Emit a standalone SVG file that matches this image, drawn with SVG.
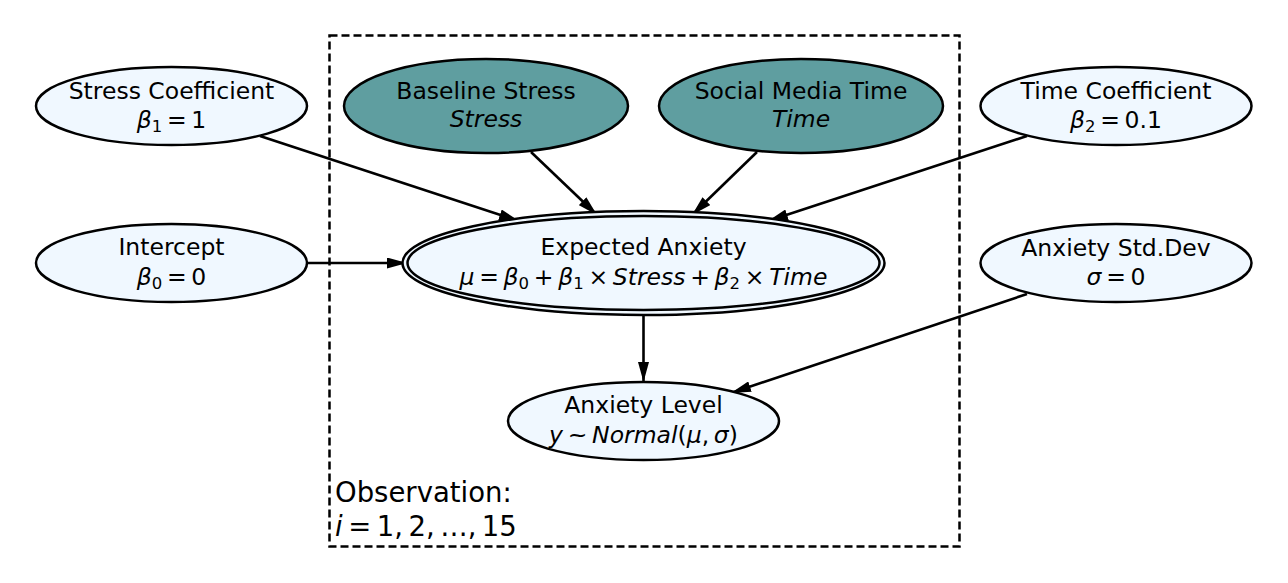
<svg xmlns="http://www.w3.org/2000/svg" width="1288" height="583" viewBox="0 0 1288 583">
<defs>
<style>
.lt{fill:#f0f8ff;stroke:#000;stroke-width:2.5}
.dk{fill:#5f9ea0;stroke:#000;stroke-width:2.5}
text{font-family:"DejaVu Sans","Liberation Sans",sans-serif;font-size:23.5px;fill:#000;text-anchor:middle}
.i{font-style:italic}
.s{font-size:16.5px}
.e{stroke:#000;stroke-width:2.6;fill:none;marker-end:url(#ah)}
.plate{fill:none;stroke:#000;stroke-width:2.5;stroke-dasharray:8,4}
.pl{font-size:27.5px;text-anchor:start}
</style>
<marker id="ah" viewBox="0 0 20 11" refX="20" refY="5.5" markerWidth="20" markerHeight="11" markerUnits="userSpaceOnUse" orient="auto">
<path d="M0,0 L20,5.5 L0,11 z" fill="#000"/>
</marker>
</defs>
<rect fill="#fff" width="1288" height="583"/>
<g id="plate">
<rect class="plate" x="329.5" y="35.5" width="630" height="511"/>
<text class="pl" x="335" y="502">Observation:</text>
<text class="pl" x="335" y="536"><tspan class="i">i</tspan>&#8201;=&#8201;1,&#8201;2,&#8201;…,&#8201;15</text>
</g>
<g id="connectors">
<line class="e" x1="260" y1="136" x2="519" y2="221"/>
<line class="e" x1="531" y1="152" x2="597" y2="215"/>
<line class="e" x1="757" y1="152" x2="692" y2="215"/>
<line class="e" x1="1027" y1="136" x2="768" y2="221"/>
<line class="e" x1="307" y1="263" x2="407" y2="263"/>
<line class="e" x1="643.5" y1="315" x2="643.5" y2="382"/>
<line class="e" x1="1027" y1="294" x2="731" y2="393"/>
</g>
<g id="stress_coef">
<ellipse class="lt" cx="171.5" cy="106" rx="135.5" ry="39"/>
<text x="171.5" y="99">Stress Coefficient</text>
<text x="171.5" y="128"><tspan class="i">β</tspan><tspan class="s" dy="4">1</tspan><tspan dy="-4">&#8201;=&#8201;1</tspan></text>
</g>
<g id="baseline_stress">
<ellipse class="dk" cx="486" cy="106" rx="142" ry="47"/>
<text x="486" y="99">Baseline Stress</text>
<text class="i" x="486" y="127">Stress</text>
</g>
<g id="social_media_time">
<ellipse class="dk" cx="801" cy="106" rx="142" ry="47"/>
<text x="801" y="99">Social Media Time</text>
<text class="i" x="801" y="127">Time</text>
</g>
<g id="time_coef">
<ellipse class="lt" cx="1116" cy="106" rx="135.5" ry="39"/>
<text x="1116" y="99">Time Coefficient</text>
<text x="1116" y="128"><tspan class="i">β</tspan><tspan class="s" dy="4">2</tspan><tspan dy="-4">&#8201;=&#8201;0.1</tspan></text>
</g>
<g id="intercept">
<ellipse class="lt" cx="171.5" cy="263" rx="135.5" ry="39"/>
<text x="171.5" y="255">Intercept</text>
<text x="171.5" y="285"><tspan class="i">β</tspan><tspan class="s" dy="4">0</tspan><tspan dy="-4">&#8201;=&#8201;0</tspan></text>
</g>
<g id="expected_anxiety">
<ellipse class="lt" cx="643.5" cy="263" rx="241" ry="52"/>
<ellipse fill="none" stroke="#000" stroke-width="2.5" cx="643.5" cy="263" rx="236" ry="47"/>
<text x="643.5" y="255">Expected Anxiety</text>
<text x="643.5" y="285"><tspan class="i">μ</tspan>&#8201;=&#8201;<tspan class="i">β</tspan><tspan class="s" dy="4">0</tspan><tspan dy="-4">&#8201;+&#8201;</tspan><tspan class="i">β</tspan><tspan class="s" dy="4">1</tspan><tspan dy="-4">&#8201;×&#8201;</tspan><tspan class="i">Stress</tspan>&#8201;+&#8201;<tspan class="i">β</tspan><tspan class="s" dy="4">2</tspan><tspan dy="-4">&#8201;×&#8201;</tspan><tspan class="i">Time</tspan></text>
</g>
<g id="std_dev">
<ellipse class="lt" cx="1116" cy="263" rx="135.5" ry="39"/>
<text x="1116" y="256">Anxiety Std.Dev</text>
<text x="1116" y="285"><tspan class="i">σ</tspan>&#8201;=&#8201;0</text>
</g>
<g id="anxiety_level">
<ellipse class="lt" cx="643.5" cy="421" rx="135.5" ry="39"/>
<text x="643.5" y="413">Anxiety Level</text>
<text x="643.5" y="443"><tspan class="i">y</tspan>&#8201;~&#8201;<tspan class="i">Normal</tspan>(<tspan class="i">μ</tspan>,&#8201;<tspan class="i">σ</tspan>)</text>
</g>
</svg>
